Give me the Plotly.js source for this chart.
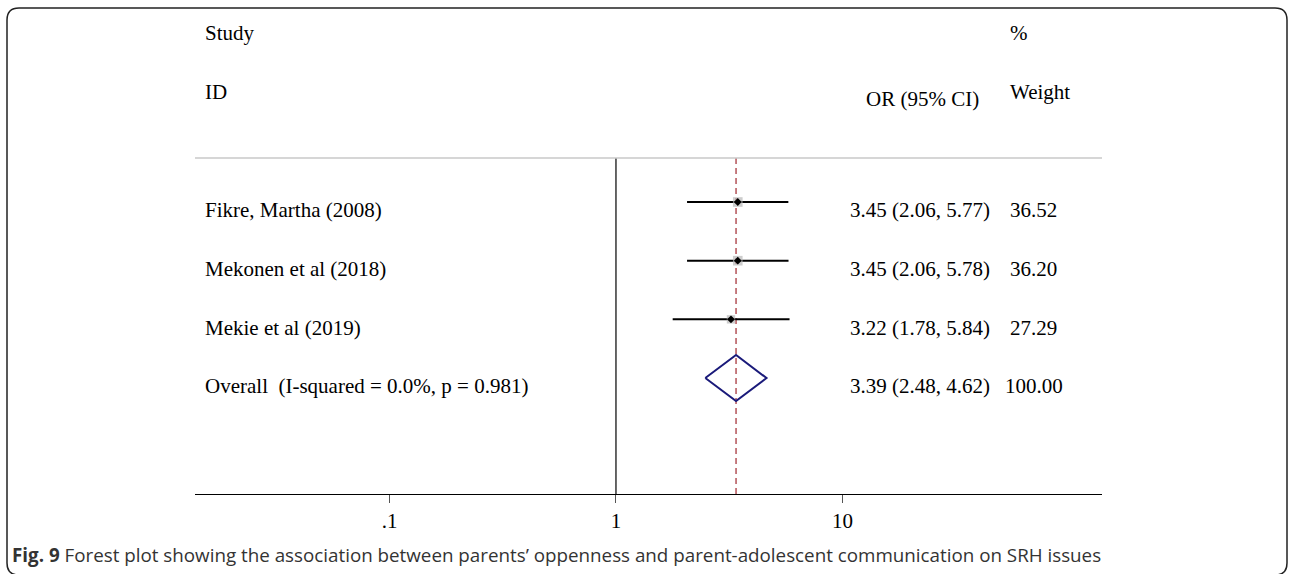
<!DOCTYPE html>
<html><head><meta charset="utf-8">
<script src="https://cdn.plot.ly/plotly-3.0.1.min.js"></script>
<style>html,body{margin:0;padding:0;background:#fff;}#chart{width:1289px;height:574px;}</style>
</head><body><div id="chart"></div>
<script>
// ---- data ----
const studies = ["Fikre, Martha (2008)", "Mekonen et al (2018)", "Mekie et al (2019)"];
const orVals = [3.45, 3.45, 3.22];
const ciLow = [2.06, 2.06, 1.78];
const ciHigh = [5.77, 5.78, 5.84];
const weights = [36.52, 36.20, 27.29];
const overallLabel = "Overall  (I-squared = 0.0%, p = 0.981)";
const overallOR = 3.39, overallLow = 2.48, overallHigh = 4.62, overallWeight = 100.00;
const tickVals = [0.1, 1, 10];
const tickText = [".1", "1", "10"];
const caption = "<b>Fig. 9</b> Forest plot showing the association between parents’ oppenness and parent-adolescent communication on SRH issues";

// ---- layout helpers ----
const W = 1289, H = 574;
const mL = 195, mR = 187, mT = 8, mB = 80;
const pw = W - mL - mR, ph = H - mT - mB;
const px = v => (v - mL) / pw;
const py = v => (H - mB - v) / ph;
const rowY = i => i + 1;            // study rows 1..3, overall row 4
const overallRow = studies.length + 1;
const textOff = 0.14;               // text sits slightly below marks (Stata style)
const fmt = v => v.toFixed(2);
const yTop = 0.25, yBot = 5.977;

const serif = "Liberation Serif, Times New Roman, serif";
const traces = [];

// null line at 1
traces.push({x: [1, 1], y: [yTop, yBot], mode: 'lines', line: {color: '#000', width: 1.2}, hoverinfo: 'skip', showlegend: false});
// overall dashed line
traces.push({x: [overallOR, overallOR], y: [yTop, yBot], mode: 'lines', line: {color: '#a8383e', width: 1.3, dash: '6px,4px'}, hoverinfo: 'skip', showlegend: false});

// CI whiskers
const wx = [], wy = [];
studies.forEach((s, i) => { wx.push(ciLow[i], ciHigh[i], null); wy.push(rowY(i), rowY(i), null); });
traces.push({x: wx, y: wy, mode: 'lines', line: {color: '#000', width: 2}, hoverinfo: 'skip', showlegend: false});

// weight squares
traces.push({x: orVals, y: studies.map((s, i) => rowY(i)), mode: 'markers',
  marker: {symbol: 'square', color: '#b8b8b8', size: weights.map(w => Math.sqrt(w) * 1.6), line: {width: 0}},
  hoverinfo: 'skip', showlegend: false});
// point estimates
traces.push({x: orVals, y: studies.map((s, i) => rowY(i)), mode: 'markers',
  marker: {symbol: 'diamond', color: '#000', size: 6}, hoverinfo: 'skip', showlegend: false});

// overall diamond
const dh = 0.392;
traces.push({x: [overallLow, overallOR, overallHigh, overallOR, overallLow],
  y: [overallRow, overallRow - dh, overallRow, overallRow + dh, overallRow],
  mode: 'lines', line: {color: '#1a1a7a', width: 2}, hoverinfo: 'skip', showlegend: false});

// annotations
const ann = [];
const txt = (text, x, y, xanchor) => ann.push({text, x, y, xref: 'paper', yref: 'y', xanchor, yanchor: 'middle', showarrow: false, borderpad: 0, font: {family: serif, size: 21, color: '#000'}});
txt("Study", px(204), -1.88, 'left');
txt("ID", px(204), -0.875, 'left');
txt("OR (95% CI)", px(980), -0.756, 'right');
txt("%", px(1009), -1.88, 'left');
txt("Weight", px(1009), -0.875, 'left');
studies.forEach((s, i) => {
  txt(s, px(204), rowY(i) + textOff, 'left');
  txt(`${fmt(orVals[i])} (${fmt(ciLow[i])}, ${fmt(ciHigh[i])})`, px(991), rowY(i) + textOff, 'right');
  txt(fmt(weights[i]), px(1033), rowY(i) + textOff, 'center');
});
txt(overallLabel, px(204), overallRow + textOff, 'left');
txt(`${fmt(overallOR)} (${fmt(overallLow)}, ${fmt(overallHigh)})`, px(991), overallRow + textOff, 'right');
txt(fmt(overallWeight), px(1034), overallRow + textOff, 'center');

ann.push({text: caption, x: px(11), y: py(555), xref: 'paper', yref: 'paper', xanchor: 'left', yanchor: 'middle', showarrow: false, borderpad: 0,
  font: {family: "Open Sans, sans-serif", size: 18.8, color: '#333'}});

// frame (rounded) and header rule
const r = 12, x0 = px(7), x1 = px(1287), y0 = py(8), y1 = py(575);
const rx = r / pw, ry = r / ph;
const framePath = `M ${x0 + rx} ${y0} L ${x1 - rx} ${y0} Q ${x1} ${y0} ${x1} ${y0 - ry} L ${x1} ${y1 + ry} Q ${x1} ${y1} ${x1 - rx} ${y1} L ${x0 + rx} ${y1} Q ${x0} ${y1} ${x0} ${y1 + ry} L ${x0} ${y0 - ry} Q ${x0} ${y0} ${x0 + rx} ${y0} Z`;
const shapes = [
  {type: 'path', xref: 'paper', yref: 'paper', path: framePath, line: {color: '#222', width: 1.5}},
  {type: 'line', xref: 'paper', yref: 'y', x0: 0, x1: 1, y0: yTop, y1: yTop, line: {color: '#c8c8c8', width: 1.5}}
];

const layout = {
  width: W, height: H,
  margin: {l: mL, r: mR, t: mT, b: mB, pad: 0},
  paper_bgcolor: '#fff', plot_bgcolor: '#fff',
  showlegend: false,
  xaxis: {type: 'log', range: [Math.log10(0.01384), Math.log10(140)], tickvals: tickVals, ticktext: tickText,
    showgrid: false, zeroline: false, showline: true, linecolor: '#000', linewidth: 1.2,
    ticks: 'outside', ticklen: 8, tickcolor: '#555', tickwidth: 1,
    tickfont: {family: serif, size: 21, color: '#000'}, fixedrange: true},
  yaxis: {range: [yBot, -2.307], visible: false, showgrid: false, zeroline: false, fixedrange: true},
  annotations: ann, shapes: shapes
};
Plotly.newPlot('chart', traces, layout, {displayModeBar: false, staticPlot: true});
</script></body></html>
